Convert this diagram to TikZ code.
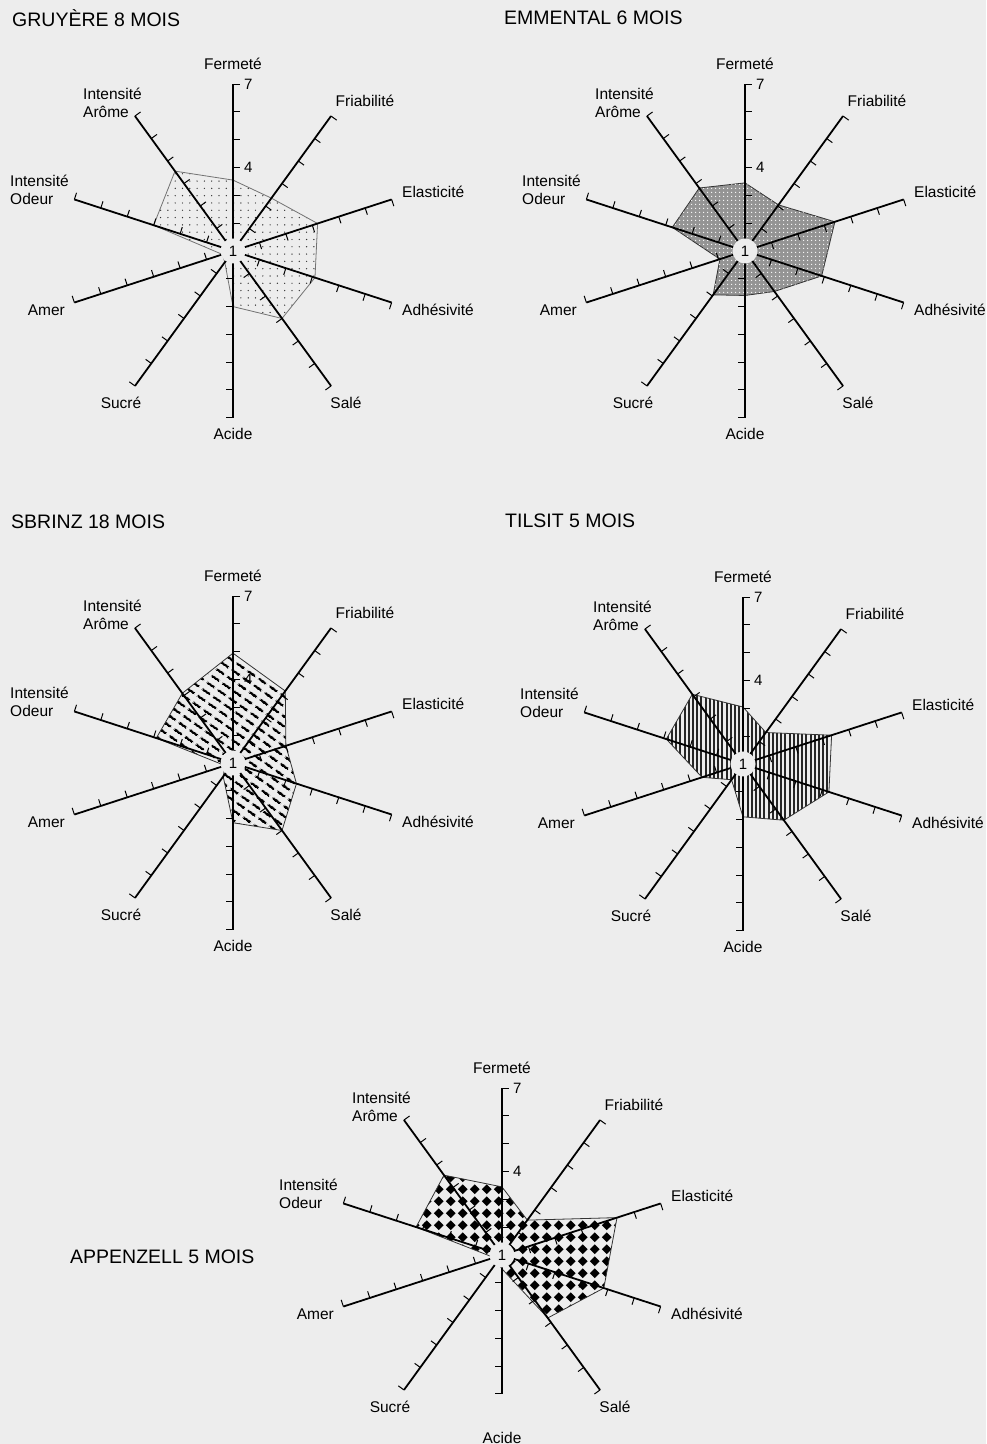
\documentclass[tikz,border=0pt]{standalone}
\usepackage{fontspec}
\setmainfont{Liberation Sans}
\usepackage{tikz}
\usetikzlibrary{patterns.meta}

\colorlet{paper}{black!7}

% fills of the profiles
\tikzdeclarepattern{name=shortdash, type=uncolored,
  bounding box={(0pt,0pt) and (14pt,8pt)}, tile size={(14pt,8pt)},
  tile transformation={rotate=-35},
  code={\draw[line width=2.6pt] (2pt,4pt) -- (11.5pt,4pt);}}
\tikzdeclarepattern{name=diamondgrid, type=uncolored,
  bounding box={(0pt,0pt) and (11.7pt,11.7pt)}, tile size={(11.7pt,11.7pt)},
  code={\fill (5.85pt,0.9pt) -- (10.8pt,5.85pt) -- (5.85pt,10.8pt) -- (0.9pt,5.85pt) -- cycle;}}

\begin{document}
\begin{tikzpicture}[x=1pt, y=1pt,
    axisline/.style={line width=1.8pt},
    tickmark/.style={line width=1pt},
    poly/.style={line width=0.8pt, draw=black!80},
    axislabel/.style={font=\fontsize{15.5}{18.5}\selectfont, align=left, inner sep=0pt},
    cheesetitle/.style={font=\fontsize{19.5}{21}\selectfont, anchor=west, inner sep=0pt},
    scalenum/.style={font=\fontsize{15}{15}\selectfont, anchor=west, inner sep=0pt},
    hub/.style={circle, fill=paper, minimum size=25pt, inner sep=0pt, font=\fontsize{15}{15}\selectfont},
    gruyerefill/.style={draw=black!55, pattern={Dots[radius=0.7pt,distance=7.3pt]}, pattern color=black!80},
    emmentalfill/.style={fill=black!42, postaction={pattern={Dots[radius=0.8pt,distance=4pt]}, pattern color=white}},
    sbrinzfill/.style={pattern=shortdash, pattern color=black},
    tilsitfill/.style={pattern={Lines[angle=90,distance=4.2pt,line width=1.9pt]}, pattern color=black!85},
    appenzellfill/.style={pattern=diamondgrid, pattern color=black}]

    % page
    \fill[paper] (0,0) rectangle (986,1444);
    \useasboundingbox (0,0) rectangle (986,1444);

    % titles
    \node[cheesetitle] (t-gruyere) at (12,1426) {GRUYÈRE 8 MOIS};
    \node[cheesetitle] (t-emmental) at (504,1426) {EMMENTAL 6 MOIS};
    \node[cheesetitle] (t-sbrinz) at (11,922) {SBRINZ 18 MOIS};
    \node[cheesetitle] (t-tilsit) at (505,923) {TILSIT 5 MOIS};
    \node[cheesetitle] (t-appenzell) at (70,187) {APPENZELL 5 MOIS};

    % profiles: name / centre / scores (Fermeté ... Intensité Arôme) / fill / end of Acide axis
    \foreach \nm/\cx/\cy/\vals/\fst/\amax in {
        gruyere/233/1193/{3.55,3.35,4.2,4.1,4.0,3.0,1.5,1.4,4.0,4.55}/gruyerefill/7,
        emmental/745/1193/{3.45,3.05,4.4,3.9,2.8,2.6,2.95,1.95,3.75,3.8}/emmentalfill/7,
        sbrinz/233/681/{4.95,4.2,3.0,3.4,4.0,3.15,1.6,1.3,3.9,4.1}/sbrinzfill/7,
        tilsit/743/680/{3.05,2.4,4.35,4.25,3.5,2.9,1.7,2.55,3.9,4.1}/tilsitfill/7,
        appenzell/502/189/{3.45,2.55,5.35,4.85,3.8,1.5,1.3,1.3,4.25,4.55}/appenzellfill/6} {
      \begin{scope}[shift={(\cx,\cy)}]
        % scores
        \foreach \v [count=\i] in \vals
          \coordinate (\nm-p\i) at ({126-36*\i}:{(\v-1)*27.8});
        \path[poly, \fst] (\nm-p1) \foreach \i in {2,...,10} {-- (\nm-p\i)} -- cycle;

        % axes with ticks
        \foreach \ang [count=\i] in {90,54,18,-18,-54,-90,-126,-162,162,126} {
          \pgfmathtruncatemacro\vend{\i==6 ? \amax : 7}
          \draw[axisline] (\ang:12) -- (\ang:{(\vend-1)*27.8});
          \foreach \k in {2,...,\vend}
            \draw[tickmark] (\ang:{(\k-1)*27.8}) -- ++({\ang-90}:7);
        }

        % scale
        \node[hub] (\nm-hub) at (0,0) {1};
        \node[scalenum] (\nm-s4) at (11,{3*27.8}) {4};
        \node[scalenum] (\nm-s7) at (11,{6*27.8}) {7};

        % axis names
        \foreach \lx/\ly/\anc/\txt [count=\j] in {0/187/center/Fermeté,
            132/150/center/Friabilité, 169/59/west/Elasticité,
            169/-59/west/Adhésivité, 113/-152/center/Salé,
            0/-183/center/Acide, -112/-152/center/Sucré,
            -168/-59/east/Amer, -164/61/east/{Intensité\\Odeur},
            -91/148/east/{Intensité\\Arôme}}
          \node[axislabel, anchor=\anc] (\nm-l\j) at (\lx,\ly) {\txt};
      \end{scope}
    }
\end{tikzpicture}
\end{document}
